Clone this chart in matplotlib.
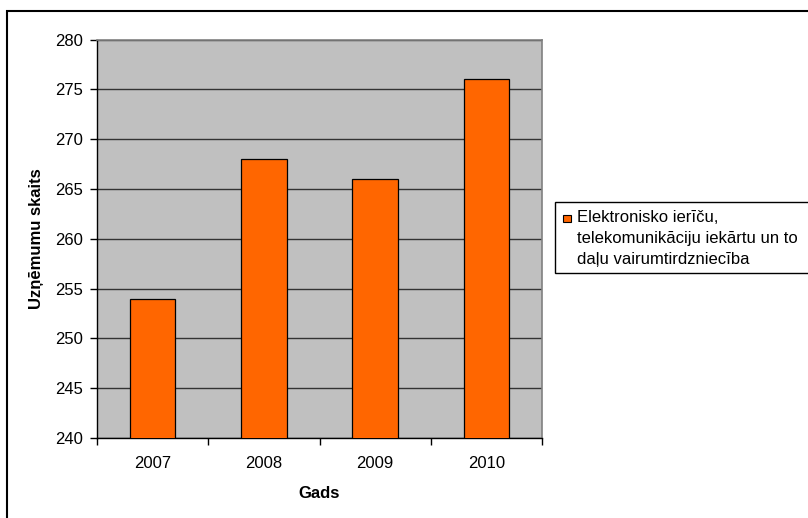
import matplotlib.pyplot as plt
from matplotlib.patches import Rectangle

plt.rcParams['font.family'] = ['Liberation Sans', 'DejaVu Sans']

years = ['2007', '2008', '2009', '2010']
companies = [254, 268, 266, 276]
series_name = 'Elektronisko ierīču,\ntelekomunikāciju iekārtu un to\ndaļu vairumtirdzniecība'

W, H = 808, 518
fig = plt.figure(figsize=(W / 100, H / 100), dpi=100)
ax = fig.add_axes([97 / W, 1 - 438 / H, 445 / W, 398.5 / H])
ax.set_facecolor('#C0C0C0')


def px(x, y):
    # pixel position (from top-left) -> figure fraction
    return x / W, 1 - y / H


# outer chart frame (only left/top edges fall inside the image)
fig.patches.append(Rectangle(px(6.5, 600), 1.2, (600 - 10.5) / H,
                             transform=fig.transFigure, fill=False,
                             edgecolor='black', linewidth=1.5, zorder=0))

x = range(len(years))
bars = ax.bar(x, companies, width=0.41, color='#FF6600',
              edgecolor='black', linewidth=0.9, zorder=3)

ax.set_ylim(240, 280)
ax.set_yticks(range(240, 281, 5))
ax.yaxis.grid(True, color='#333333', linewidth=1.0, zorder=1)
ax.set_axisbelow(True)

ax.set_xlim(-0.5, 3.5)
ax.set_xticks([-0.5, 0.5, 1.5, 2.5, 3.5])
ax.set_xticklabels([])
ax.set_xticks(list(x), minor=True)
ax.set_xticklabels(years, minor=True)
ax.tick_params(axis='x', which='minor', length=0, pad=13, labelsize=12)
ax.tick_params(axis='x', which='major', length=5, width=1, direction='out')
ax.tick_params(axis='y', length=5, width=1, direction='out', labelsize=12, pad=5)

for side in ['top', 'right']:
    ax.spines[side].set_color('#808080')
    ax.spines[side].set_linewidth(1.2)
for side in ['left', 'bottom']:
    ax.spines[side].set_color('black')
    ax.spines[side].set_linewidth(1.0)

ax.set_xlabel('Gads', fontsize=12, fontweight='bold', labelpad=11)
ax.set_ylabel('Uzņēmumu skaits', fontsize=12, fontweight='bold', labelpad=8)

# legend: framed box with a square swatch beside the wrapped series name
fig.patches.append(Rectangle(px(555, 272.5), (820 - 555) / W, 70.5 / H,
                             transform=fig.transFigure, facecolor='white',
                             edgecolor='black', linewidth=1.0))
fig.patches.append(Rectangle(px(563, 222), 7.5 / W, 7.5 / H,
                             transform=fig.transFigure, facecolor='#FF6600',
                             edgecolor='black', linewidth=0.8))
fig.text(*px(577, 210), series_name, fontsize=12, va='top', ha='left',
         linespacing=1.5)

fig.savefig('out.png', dpi=100)
